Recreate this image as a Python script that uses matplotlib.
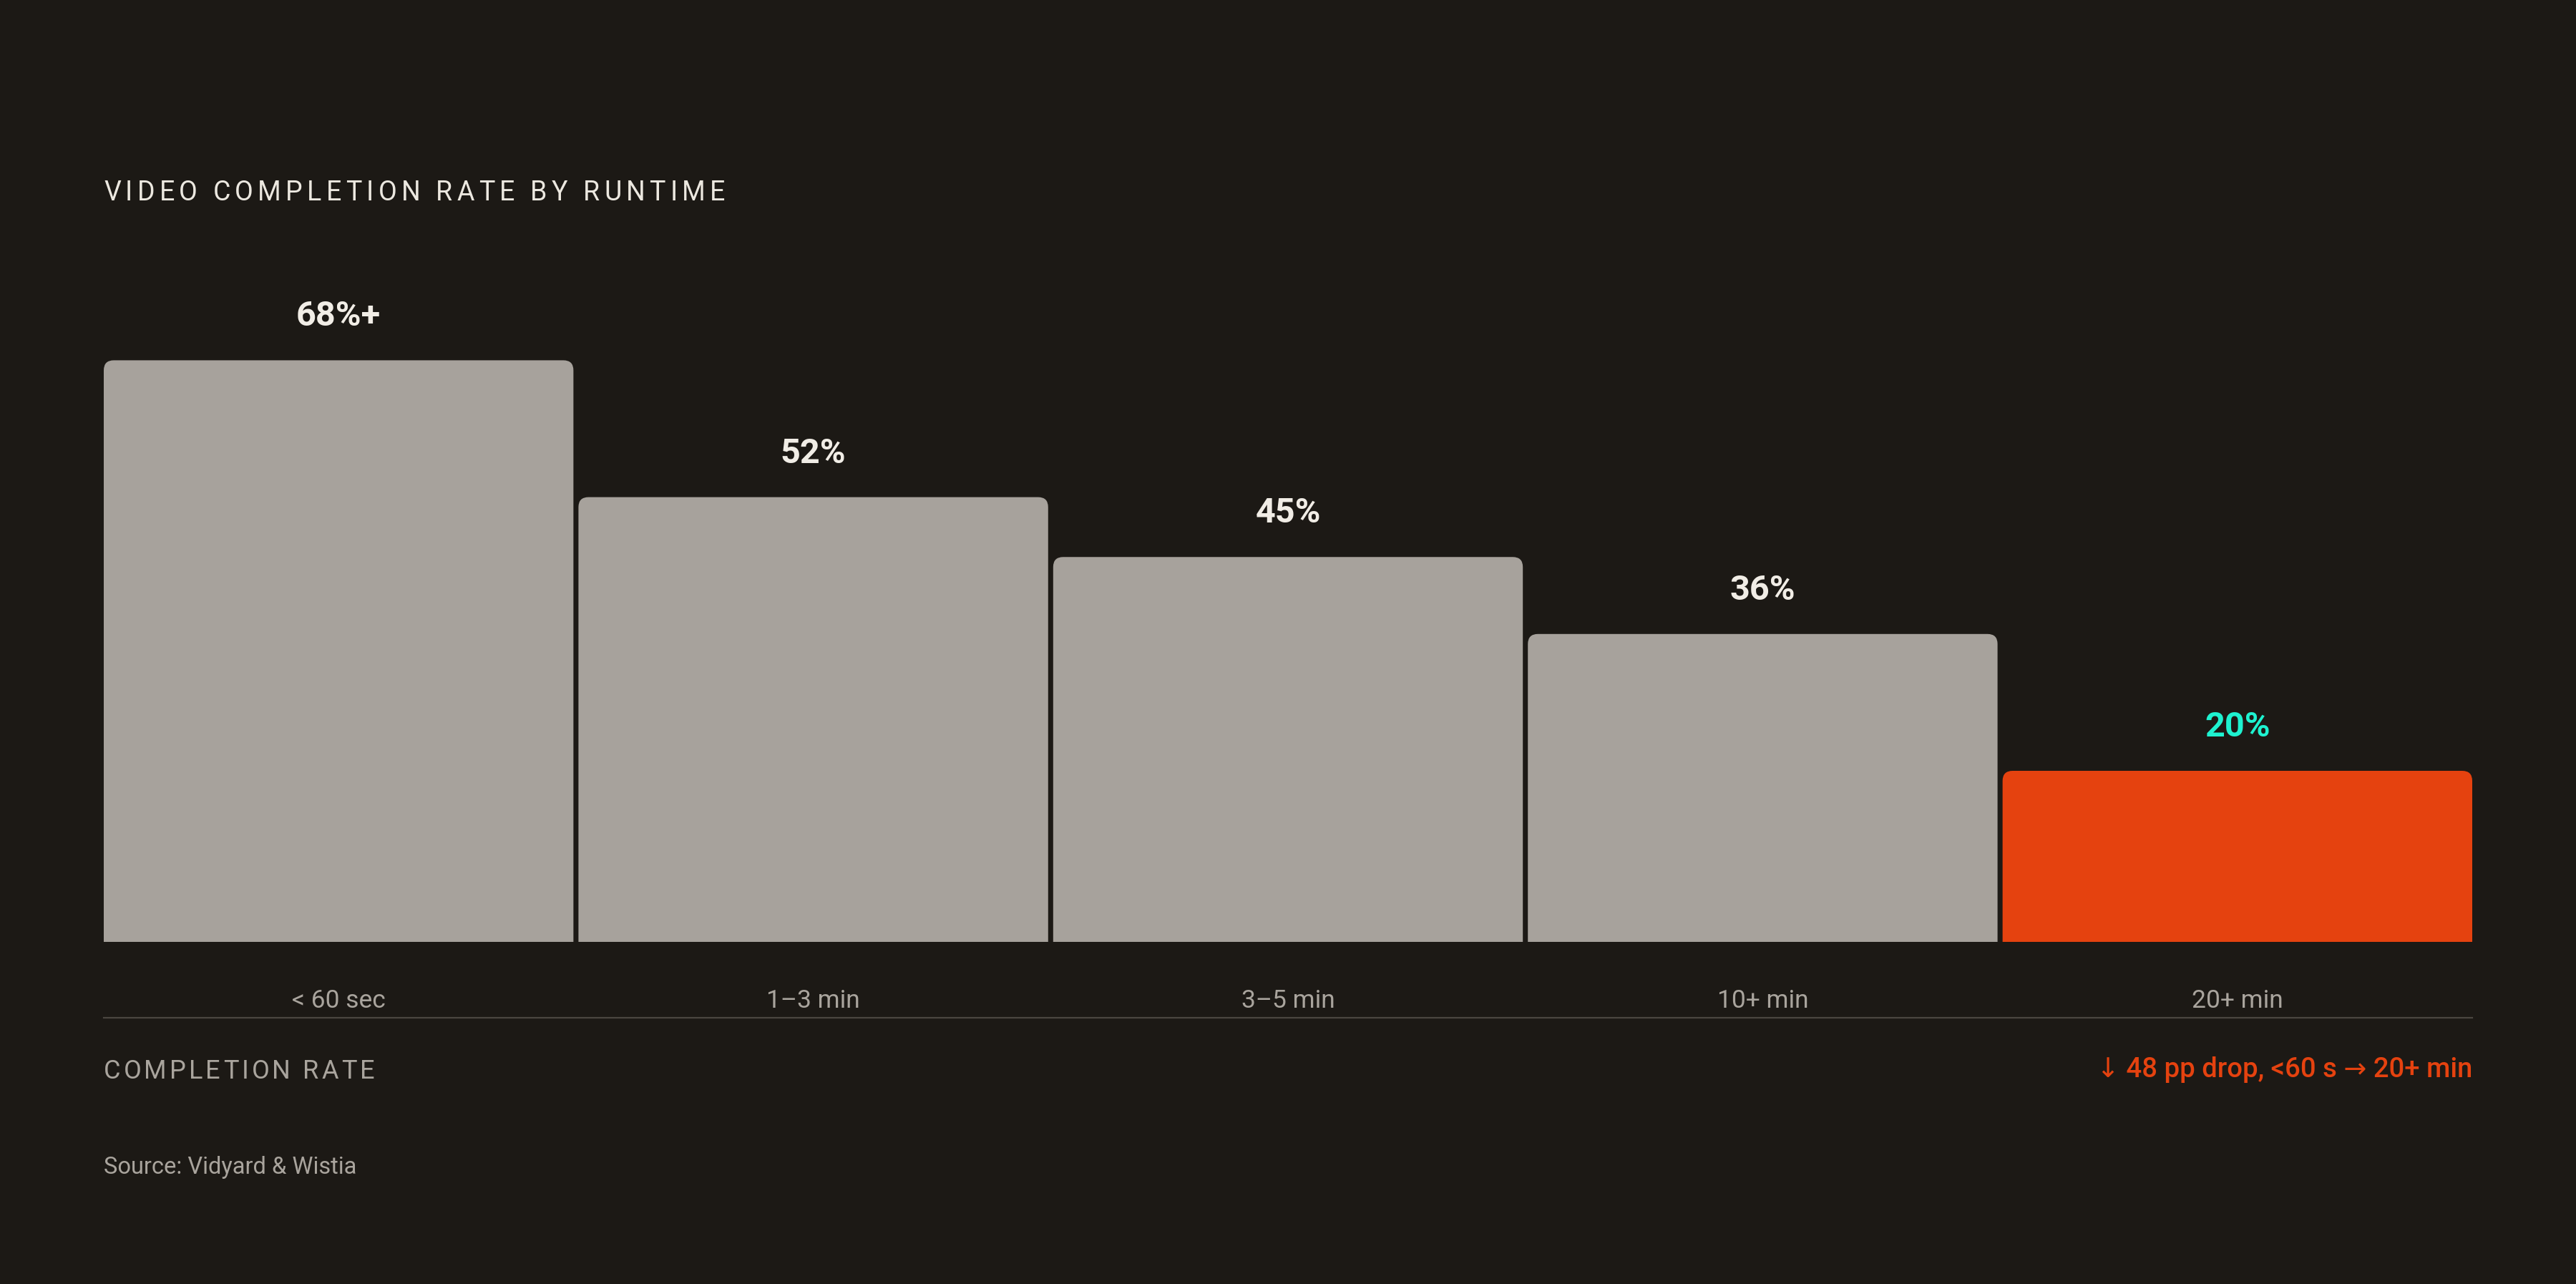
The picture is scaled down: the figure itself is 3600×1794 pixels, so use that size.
import matplotlib
matplotlib.use("Agg")
import matplotlib.pyplot as plt
from matplotlib.patches import FancyBboxPatch
from matplotlib.lines import Line2D
from matplotlib.font_manager import FontProperties

# data
categories = ["< 60 sec", "1\u20133 min", "3\u20135 min", "10+ min", "20+ min"]
completion = [68, 52, 45, 36, 20]
value_labels = ["68%+", "52%", "45%", "36%", "20%"]
highlight = [False, False, False, False, True]

title = "VIDEO COMPLETION RATE BY RUNTIME"
axis_caption = "COMPLETION RATE"
drop_note = "\u2193 48 pp drop, <60 s \u2192 20+ min"
source = "Source: Vidyard & Wistia"

BG = "#1c1915"
GREY_BAR = "#a7a29c"
ORANGE = "#e5420f"
TEAL = "#1ef2d0"
WHITE = "#f1ede6"
MUTED = "#a9a49d"
RULE = "#4a4640"

W, H = 3600, 1794
plt.rcParams["font.family"] = ["Roboto", "DejaVu Sans"]

fig = plt.figure(figsize=(W / 100, H / 100), dpi=100, facecolor=BG)

# plot area in pixels (from top)
left_px, right_px = 145, 3455
base_px = 1316
px_per_pct = 11.95
ymax = 70
top_px = base_px - ymax * px_per_pct
bar_w = 0.9894
ax = fig.add_axes([left_px / W, 1 - base_px / H,
                   (right_px - left_px) / W, (base_px - top_px) / H])
ax.set_facecolor(BG)
ax.set_xlim(0.5 - bar_w / 2, len(categories) - 0.5 + bar_w / 2)
ax.set_ylim(0, ymax)
ax.axis("off")

xs = [i + 0.5 for i in range(len(categories))]
bars = ax.bar(xs, completion, width=bar_w, color=GREY_BAR)

# rounded top corners only: extend below zero and let the axes clip it
px_per_x = (right_px - left_px) / (len(categories) - 1 + bar_w)
radius_px = 14
r = radius_px / px_per_x
ext = 2 * radius_px / px_per_pct
for b, hl in zip(bars, highlight):
    color = ORANGE if hl else GREY_BAR
    bx, by, bw, bh = b.get_x(), b.get_y(), b.get_width(), b.get_height()
    b.remove()
    ax.add_patch(FancyBboxPatch((bx, by - ext), bw, bh + ext,
                                boxstyle=f"round,pad=0,rounding_size={r}",
                                mutation_aspect=px_per_x / px_per_pct,
                                fc=color, ec="none", lw=0))

# value labels and category labels
for x, v, lab, cat, hl in zip(xs, completion, value_labels, categories, highlight):
    ax.annotate(lab, (x, v), xytext=(0, 48), textcoords="offset pixels",
                ha="center", va="baseline", fontsize=35, fontweight="bold",
                color=TEAL if hl else WHITE, annotation_clip=False)
    ax.annotate(cat, (x, 0), xytext=(0, -92), textcoords="offset pixels",
                ha="center", va="baseline", fontsize=25.5,
                color=MUTED, annotation_clip=False)

# rule under the category labels
fig.add_artist(Line2D([left_px / W, right_px / W], [1 - 1422 / H] * 2,
                      color=RULE, lw=1.6))

renderer = fig.canvas.get_renderer()


def advance(ch, prop):
    w1 = renderer.get_text_width_height_descent("H" + ch + "H", prop, ismath=False)[0]
    w0 = renderer.get_text_width_height_descent("HH", prop, ismath=False)[0]
    return w1 - w0


def spaced_text(s, x0, x1, y, size, color, weight="normal"):
    prop = FontProperties(family=["Roboto", "DejaVu Sans"], size=size, weight=weight)
    advs = [advance(c, prop) for c in s]
    last_w = renderer.get_text_width_height_descent(s[-1], prop, ismath=False)[0]
    natural = sum(advs[:-1]) + last_w
    gap = (x1 - x0 - natural) / (len(s) - 1)
    cur = x0
    for c, a in zip(s, advs):
        if c != " ":
            fig.text(cur / W, 1 - y / H, c, fontproperties=prop, color=color,
                     ha="left", va="baseline")
        cur += a + gap


spaced_text(title, 145, 1013, 280, 27, "#ece8e0")
spaced_text(axis_caption, 145, 523, 1507, 26, MUTED)

fig.text(right_px / W, 1 - 1505 / H, drop_note, ha="right", va="baseline",
         fontsize=27.5, fontweight="medium", color=ORANGE,
         family=["Roboto", "DejaVu Sans"])
fig.text(left_px / W, 1 - 1640 / H, source, ha="left", va="baseline",
         fontsize=23.5, color=MUTED)

fig.savefig("out.png", dpi=100, facecolor=BG)
